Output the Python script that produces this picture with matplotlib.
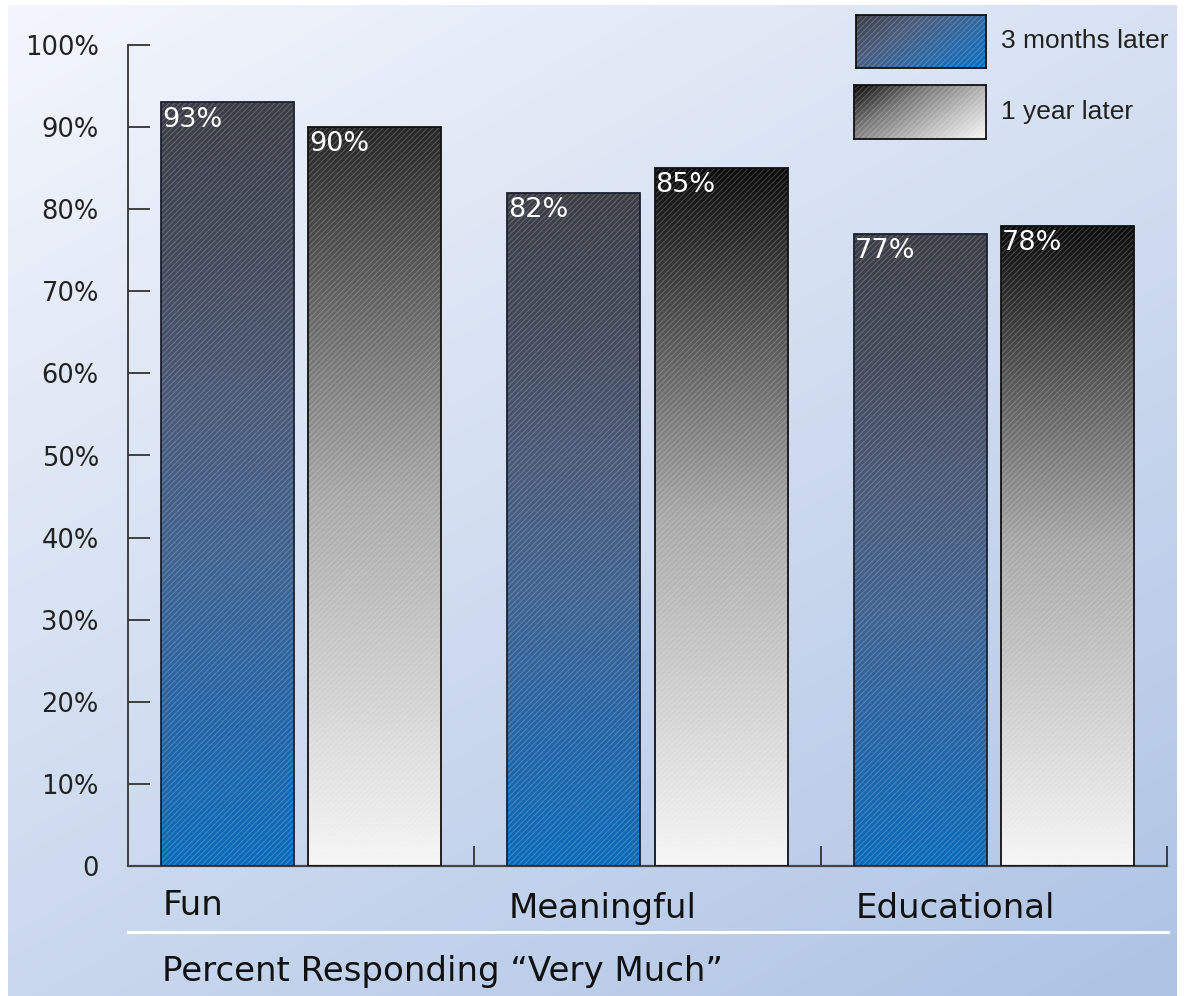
import numpy as np
import matplotlib
matplotlib.use("Agg")
import matplotlib.pyplot as plt
from matplotlib.colors import LinearSegmentedColormap
from matplotlib.patches import Rectangle
import matplotlib.transforms as mtransforms

# ---------------- data ----------------
categories = ["Fun", "Meaningful", "Educational"]
series_names = ["3 months later", "1 year later"]
three_months = [93, 82, 77]
one_year = [90, 85, 78]
yticks = [0, 10, 20, 30, 40, 50, 60, 70, 80, 90, 100]
ytick_labels = ["0", "10%", "20%", "30%", "40%", "50%", "60%", "70%", "80%", "90%", "100%"]
xlabel_text = "Percent Responding \u201cVery Much\u201d"

# ---------------- style ----------------
W, H = 1185, 996
plt.rcParams["hatch.linewidth"] = 0.7
plt.rcParams["font.family"] = ["DejaVu Sans"]
fig = plt.figure(figsize=(W / 100, H / 100), dpi=100)
fig.patch.set_facecolor("white")

def px_ax(x0, y0, x1, y1):
    """figure-fraction rect from pixel box (top-left origin)"""
    return [x0 / W, 1 - y1 / H, (x1 - x0) / W, (y1 - y0) / H]

# background panel with diagonal gradient
bg = fig.add_axes(px_ax(8, 5, 1177, 996), zorder=0)
bg.set_axis_off()
gx, gy = np.meshgrid(np.linspace(0, 1, 300), np.linspace(0, 1, 300))
t = (gx * 0.4 + gy * 0.6)
c0 = np.array([0.955, 0.965, 0.99])
c1 = np.array([0.68, 0.765, 0.895])
img = c0[None, None, :] * (1 - t[..., None]) + c1[None, None, :] * t[..., None]
bg.imshow(img, aspect="auto", extent=[0, 1, 1, 0], interpolation="bilinear")
bg.set_xlim(0, 1)
bg.set_ylim(1, 0)

# main axes
ax = fig.add_axes(px_ax(128, 45, 1167, 866), zorder=2)
ax.set_facecolor("none")

blue_cmap = LinearSegmentedColormap.from_list(
    "blu", ["#0a6bb9", "#2565a6", "#3f6390", "#4a5a78", "#43495a", "#3a3d45"])
gray_tops = ["#262626", "#0b0b0b", "#0b0b0b"]

bar_w = 0.384
off = 0.2125
n = len(categories)
idx = np.arange(n)
x_blue = idx + 0.5 - off
x_gray = idx + 0.5 + off

grad = np.linspace(0, 1, 256)[:, None]

def gradient_bars(xs, vals, cmaps, edge):
    bars = ax.bar(xs, vals, width=bar_w, color="none", edgecolor="none", zorder=2)
    for b, cm in zip(bars, cmaps):
        x0, y0 = b.get_x(), b.get_y()
        im = ax.imshow(grad, cmap=cm, origin="lower", aspect="auto",
                       extent=[x0, x0 + b.get_width(), y0, y0 + b.get_height()],
                       zorder=2, interpolation="bilinear")
        im.set_clip_path(b)
    ax.bar(xs, vals, width=bar_w, facecolor="none", edgecolor=(1, 1, 1, 0.22),
           hatch="//////", linewidth=0, zorder=3)
    ax.bar(xs, vals, width=bar_w, fill=False, edgecolor=edge, linewidth=1.3, zorder=4)
    return bars

gray_cmaps = [LinearSegmentedColormap.from_list("g%d" % i, ["#f6f6f6", "#a8a8a8", tc])
              for i, tc in enumerate(gray_tops)]
b1 = gradient_bars(x_blue, three_months, [blue_cmap] * n, "#1a2030")
b2 = gradient_bars(x_gray, one_year, gray_cmaps, "#111111")

# value labels
for xs, vals in ((x_blue, three_months), (x_gray, one_year)):
    for x, v in zip(xs, vals):
        ax.annotate(f"{v}%", xy=(x - bar_w / 2, v), xytext=(0.5, -3),
                    textcoords="offset points", ha="left", va="top",
                    color="white", fontsize=19.5, zorder=5)

ax.set_xlim(0, 3)
ax.set_ylim(0, 100)

# axes styling
for s in ("top", "right"):
    ax.spines[s].set_visible(False)
ax.spines["left"].set_color("#333333")
ax.spines["left"].set_linewidth(1.3)
ax.spines["bottom"].set_color("#444444")
ax.spines["bottom"].set_linewidth(1.6)
ax.set_yticks(yticks)
ax.set_yticklabels(ytick_labels)
ax.tick_params(axis="y", direction="in", length=16, width=1.3, color="#333333",
               pad=21, labelsize=18.5, labelcolor="#222222")
ax.set_xticks([1, 2, 3])
ax.set_xticklabels(["", "", ""])
ax.tick_params(axis="x", direction="in", length=14.5, width=1.3, color="#333333")

# category labels
blend = mtransforms.blended_transform_factory(ax.transData, ax.transAxes)
cat_base_px = [915, 918, 918]
for x, lab, ypx in zip(x_blue, categories, cat_base_px):
    ax.text(x - bar_w / 2 + 0.004, (866 - ypx) / 821, lab, transform=blend,
            ha="left", va="baseline", fontsize=24.5, color="#111111", clip_on=False)

# white separator line and axis title
ax.plot([0, 1.0005], [(866 - 932) / 821] * 2, transform=ax.transAxes, color="white",
        lw=2.2, clip_on=False, zorder=1)
ax.text(x_blue[0] - bar_w / 2 + 0.004, (866 - 981) / 821, xlabel_text, transform=blend,
        ha="left", va="baseline", fontsize=24.5, color="#111111", clip_on=False)

# legend swatches
leg_boxes = [(856, 15, 986, 68), (854, 85, 986, 139)]
gxl, gyl = np.meshgrid(np.linspace(0, 1, 200), np.linspace(0, 1, 80))
tl = np.clip(gxl * 0.6 + gyl * 0.4, 0, 1)
leg_cmaps = [LinearSegmentedColormap.from_list("lb", ["#3a3d45", "#4a5d7e", "#2b6aa8", "#0a6fc0"]),
             LinearSegmentedColormap.from_list("lg", ["#0a0a0a", "#777777", "#bdbdbd", "#f8f8f8"])]
for (x0, y0, x1, y1), cm, name in zip(leg_boxes, leg_cmaps, series_names):
    la = fig.add_axes(px_ax(x0, y0, x1, y1), zorder=3)
    la.set_xlim(0, 1)
    la.set_ylim(1, 0)
    la.imshow(tl, cmap=cm, aspect="auto", extent=[0, 1, 1, 0], interpolation="bilinear")
    la.add_patch(Rectangle((0, 0), 1, 1, facecolor="none", edgecolor=(1, 1, 1, 0.22),
                           hatch="//////", linewidth=0))
    la.set_xticks([])
    la.set_yticks([])
    for s in la.spines.values():
        s.set_color("#111111")
        s.set_linewidth(1.3)
    fig.text(1001 / W, 1 - ((y0 + y1) / 2) / H, name, ha="left", va="center",
             fontsize=19, family="Liberation Sans", color="#222222")

fig.savefig("out.png", dpi=100, facecolor="white")
